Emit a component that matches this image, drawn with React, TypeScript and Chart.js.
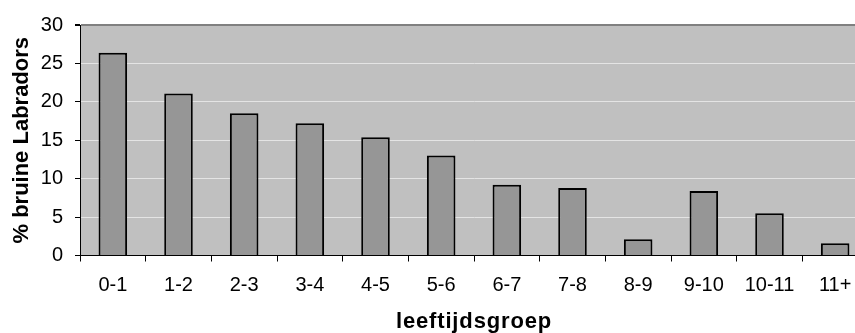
import React, { useEffect, useRef } from "react";
import { Chart, registerables } from "chart.js";

Chart.register(...registerables);

const categories = ["0-1", "1-2", "2-3", "3-4", "4-5", "5-6", "6-7", "7-8", "8-9", "9-10", "10-11", "11+"];
const percentages = [26.4, 21.1, 18.5, 17.2, 15.4, 13.0, 9.2, 8.8, 2.1, 8.4, 5.5, 1.6];
const yTicks = [0, 5, 10, 15, 20, 25, 30];
const xTitle = "leeftijdsgroep";
const yTitle = "% bruine Labradors";

const FONT = "'Liberation Sans', Arial, Helvetica, sans-serif";

const plotBg = {
  id: "plotBg",
  beforeDraw(chart: any) {
    const { ctx, chartArea } = chart;
    ctx.save();
    ctx.fillStyle = "#c0c0c0";
    ctx.fillRect(chartArea.left, chartArea.top, chartArea.right - chartArea.left, chartArea.bottom - chartArea.top);
    ctx.restore();
  },
};

function spacedTitle(s: any, spacing: string) {
  if (s.__spaced) return;
  s.__spaced = true;
  const orig = s.drawTitle.bind(s);
  s.drawTitle = (...args: any[]) => {
    const ctx = s.ctx;
    ctx.save();
    (ctx as any).letterSpacing = spacing;
    orig(...args);
    ctx.restore();
  };
}

export default function App() {
  const ref = useRef<HTMLCanvasElement>(null);
  useEffect(() => {
    if (!ref.current) return;
    const chart = new Chart(ref.current, {
      type: "bar",
      data: {
        labels: categories,
        datasets: [
          {
            data: percentages,
            backgroundColor: "#969696",
            borderColor: "#000000",
            borderWidth: 2,
            barPercentage: 0.435,
            categoryPercentage: 1,
          },
        ],
      },
      options: {
        responsive: false,
        animation: false,
        layout: { padding: { top: 25, right: 2, left: 0, bottom: 0 } },
        plugins: { legend: { display: false }, tooltip: { enabled: false } },
        scales: {
          x: {
            offset: true,
            grid: { display: true, drawOnChartArea: false, drawTicks: true, tickLength: 6, color: "#000", offset: true },
            border: { display: true, color: "#000", width: 1 },
            ticks: { color: "#000", font: { family: FONT, size: 20 }, padding: 12, maxRotation: 0, autoSkip: false },
            title: { display: true, text: xTitle, color: "#000", font: { family: FONT, size: 22, weight: "bold", lineHeight: 1 }, padding: { top: 0, bottom: 0 } },
            afterFit: (s: any) => { s.height = 77.5; spacedTitle(s, "0.85px"); },
          },
          y: {
            min: 0,
            max: 30,
            afterBuildTicks: (s: any) => { s.ticks = yTicks.map((v) => ({ value: v })); },
            grid: {
              color: (c: any) => (c.tick && c.tick.value === 30 ? "#808080" : c.tick && c.tick.value === 0 ? "#000" : "#e4e4e4"),
              tickColor: "#000",
              tickLength: 5,
              lineWidth: (c: any) => (c.tick && c.tick.value === 30 ? 2 : 1),
            },
            border: { display: true, color: "#000", width: 1 },
            ticks: { color: "#000", font: { family: FONT, size: 20 }, padding: 12 },
            title: { display: true, text: yTitle, color: "#000", font: { family: FONT, size: 22, weight: "bold", lineHeight: 1 }, padding: { top: 11, bottom: 11 } },
            afterFit: (s: any) => { s.width = 80; },
          },
        },
      },
      plugins: [plotBg],
    });
    return () => chart.destroy();
  }, []);
  return (
    <div style={{ position: "absolute", left: 0, top: 0, width: 855, height: 333, overflow: "hidden", background: "#fff" }}>
      <canvas ref={ref} width={870} height={333} />
    </div>
  );
}
